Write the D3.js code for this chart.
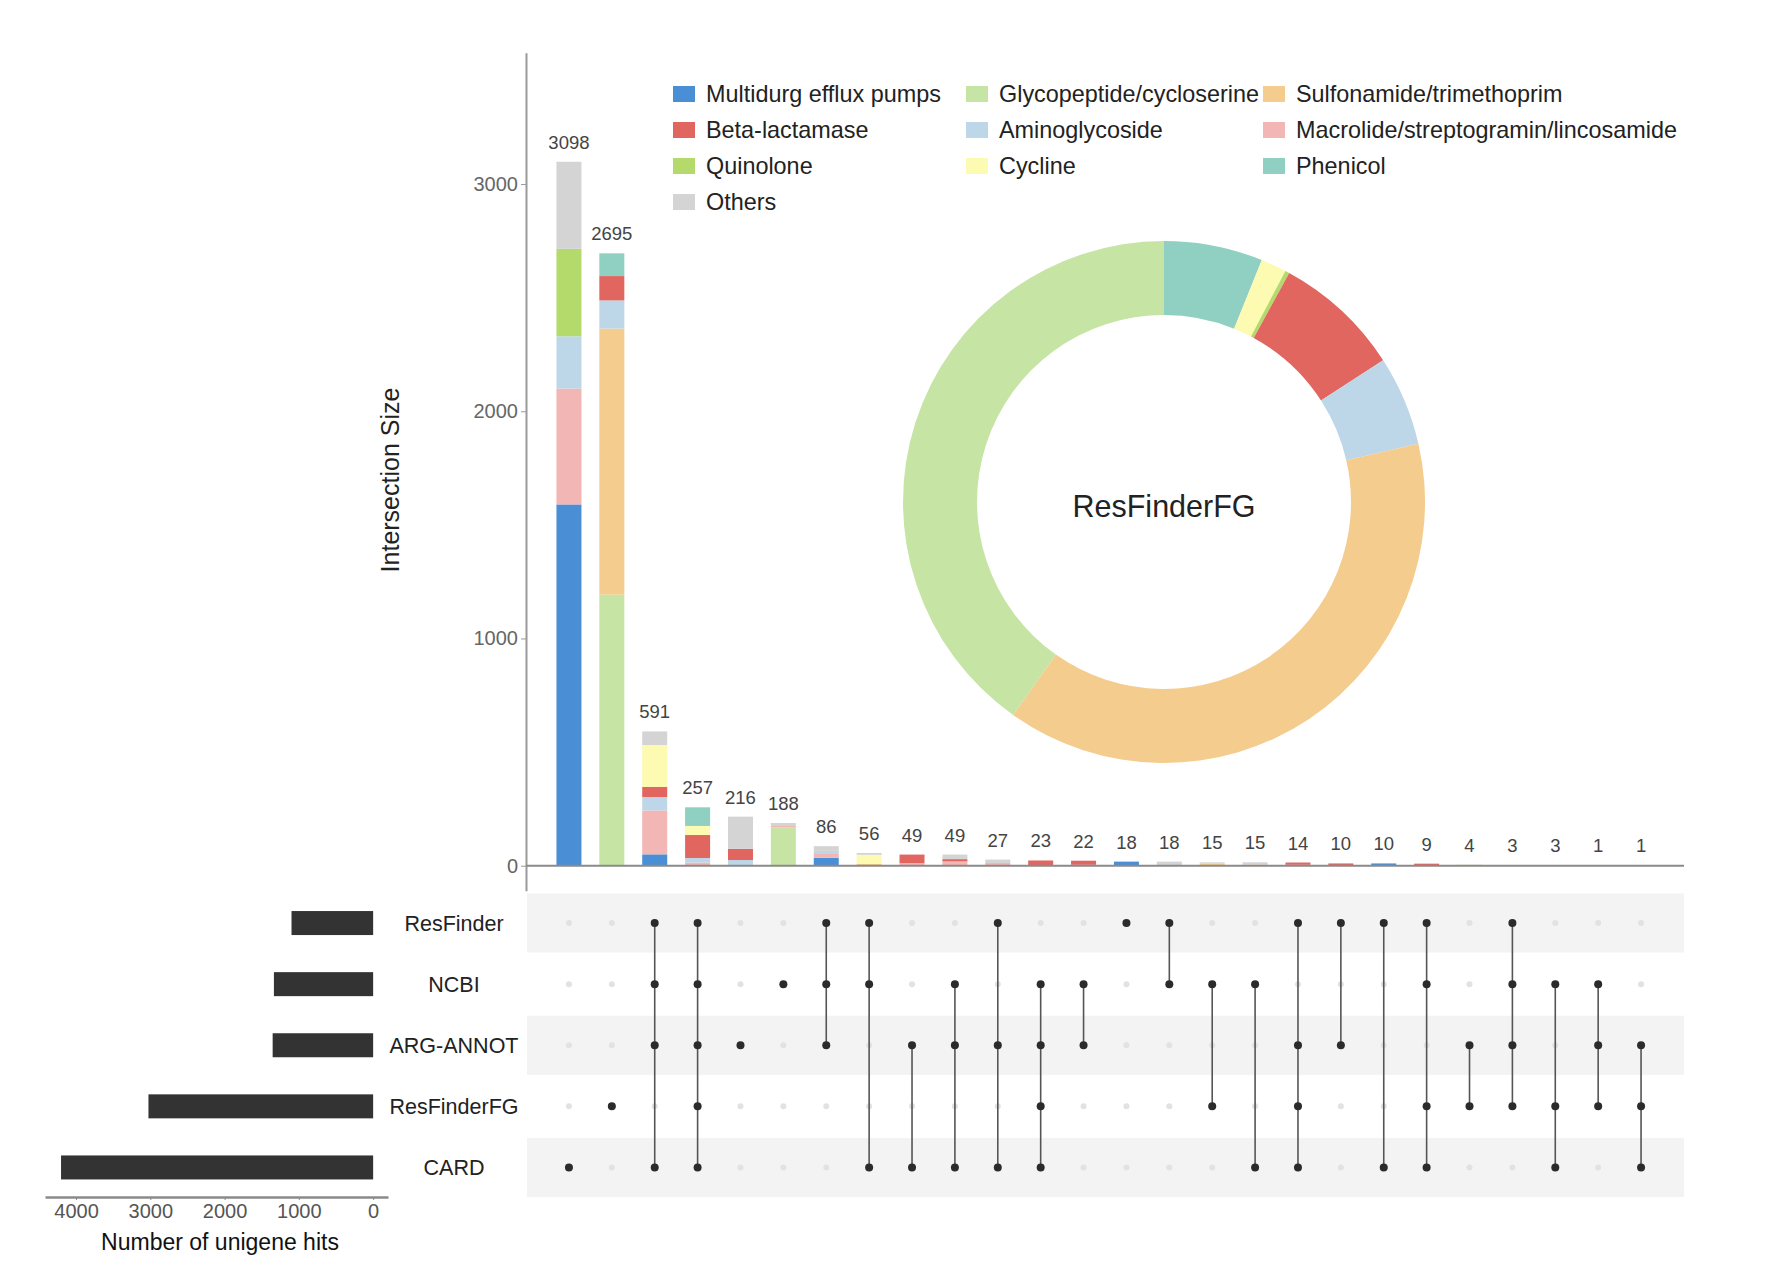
<!DOCTYPE html>
<html><head><meta charset="utf-8">
<script src="https://cdn.jsdelivr.net/npm/d3@7"></script>
<style>
body{margin:0;background:#fff}
text{font-family:"Liberation Sans",Arial,Helvetica,sans-serif}
</style>
</head><body>
<svg id="c" width="1768" height="1276"></svg>
<script>
// ---------------- DATA ----------------
const setNames = ["ResFinder", "NCBI", "ARG-ANNOT", "ResFinderFG", "CARD"];
const setSizes = [1099, 1336, 1353, 3025, 4202];

const intersectionSizes = [3098, 2695, 591, 257, 216, 188, 86, 56, 49, 49, 27, 23, 22, 18, 18, 15, 15, 14, 10, 10, 9, 4, 3, 3, 1, 1];
const combos = [
  ["CARD"],
  ["ResFinderFG"],
  ["ResFinder", "NCBI", "ARG-ANNOT", "CARD"],
  ["ResFinder", "NCBI", "ARG-ANNOT", "ResFinderFG", "CARD"],
  ["ARG-ANNOT"],
  ["NCBI"],
  ["ResFinder", "NCBI", "ARG-ANNOT"],
  ["ResFinder", "NCBI", "CARD"],
  ["ARG-ANNOT", "CARD"],
  ["NCBI", "ARG-ANNOT", "CARD"],
  ["ResFinder", "ARG-ANNOT", "CARD"],
  ["NCBI", "ARG-ANNOT", "ResFinderFG", "CARD"],
  ["NCBI", "ARG-ANNOT"],
  ["ResFinder"],
  ["ResFinder", "NCBI"],
  ["NCBI", "ResFinderFG"],
  ["NCBI", "CARD"],
  ["ResFinder", "ARG-ANNOT", "ResFinderFG", "CARD"],
  ["ResFinder", "ARG-ANNOT"],
  ["ResFinder", "CARD"],
  ["ResFinder", "NCBI", "ResFinderFG", "CARD"],
  ["ARG-ANNOT", "ResFinderFG"],
  ["ResFinder", "NCBI", "ARG-ANNOT", "ResFinderFG"],
  ["NCBI", "ResFinderFG", "CARD"],
  ["NCBI", "ARG-ANNOT", "ResFinderFG"],
  ["ARG-ANNOT", "ResFinderFG", "CARD"]
];

// stacked composition of each intersection bar (bottom -> top order below)
const multidrugEfflux = [1590, 0, 50, 0, 0, 0, 35, 0, 0, 0, 0, 0, 0, 18, 0, 0, 0, 0, 0, 10, 0, 0, 0, 0, 0, 0];
const glycopeptide    = [0, 1193, 0, 0, 0, 168, 0, 0, 0, 0, 0, 0, 0, 0, 0, 0, 0, 0, 0, 0, 0, 4, 0, 0, 0, 1];
const sulfonamide     = [0, 1171, 0, 0, 0, 0, 0, 8, 0, 0, 0, 0, 0, 0, 0, 10, 5, 0, 0, 0, 0, 0, 0, 0, 0, 0];
const macrolide       = [510, 0, 193, 14, 0, 10, 20, 0, 11, 19, 12, 0, 4, 0, 0, 0, 0, 4, 0, 0, 3, 0, 0, 0, 0, 0];
const aminoglycoside  = [230, 124, 59, 20, 25, 0, 10, 0, 0, 0, 0, 0, 0, 0, 0, 0, 0, 0, 0, 0, 0, 0, 0, 0, 0, 0];
const betaLactamase   = [0, 107, 45, 101, 49, 0, 0, 0, 38, 10, 0, 23, 18, 0, 0, 0, 0, 10, 10, 0, 6, 0, 3, 0, 0, 0];
const quinolone       = [385, 0, 0, 0, 0, 0, 0, 0, 0, 0, 0, 0, 0, 0, 0, 0, 0, 0, 0, 0, 0, 0, 0, 0, 0, 0];
const cycline         = [0, 0, 184, 40, 0, 0, 0, 40, 0, 0, 0, 0, 0, 0, 0, 0, 0, 0, 0, 0, 0, 0, 0, 0, 0, 0];
const phenicol        = [0, 100, 0, 82, 0, 0, 0, 0, 0, 0, 0, 0, 0, 0, 0, 0, 0, 0, 0, 0, 0, 0, 0, 0, 0, 0];
const others          = [383, 0, 60, 0, 142, 10, 21, 8, 0, 20, 15, 0, 0, 0, 18, 5, 10, 0, 0, 0, 0, 0, 0, 3, 1, 0];

const stackOrder = ["Multidurg efflux pumps", "Glycopeptide/cycloserine", "Sulfonamide/trimethoprim",
  "Macrolide/streptogramin/lincosamide", "Aminoglycoside", "Beta-lactamase", "Quinolone", "Cycline", "Phenicol", "Others"];
const stackSeries = [multidrugEfflux, glycopeptide, sulfonamide, macrolide, aminoglycoside, betaLactamase, quinolone, cycline, phenicol, others];

const legendOrder = ["Multidurg efflux pumps", "Glycopeptide/cycloserine", "Sulfonamide/trimethoprim",
  "Beta-lactamase", "Aminoglycoside", "Macrolide/streptogramin/lincosamide",
  "Quinolone", "Cycline", "Phenicol", "Others"];
const categoryColors = ["#4a8fd6", "#c6e4a4", "#f4cc8e", "#f2b6b5", "#bdd7e8", "#e0665f", "#b4da6c", "#fdfab2", "#8fd0c3", "#d4d4d4"];

// ResFinderFG composition for the donut (clockwise from 12 o'clock)
const donutLabel = "ResFinderFG";
const donutCategories = ["Phenicol", "Cycline", "Quinolone", "Beta-lactamase", "Aminoglycoside", "Sulfonamide/trimethoprim", "Glycopeptide/cycloserine"];
const donutValues = [185, 48, 8, 239, 168, 1162, 1216];

const yTicks = [0, 1000, 2000, 3000];
const setTicks = [0, 1000, 2000, 3000, 4000];

// ---------------- CHART ----------------
const svg = d3.select("#c");
const color = d3.scaleOrdinal().domain(stackOrder).range(categoryColors);
const FONT = "'Liberation Sans',Arial,sans-serif";

const x = d3.scaleBand().domain(d3.range(intersectionSizes.length))
  .range([526, 1684]).paddingInner(0.417).paddingOuter(0.71);
const y = d3.scaleLinear().domain([-110, 3578]).range([890.7, 52.7]);

// stacked bars
const table = intersectionSizes.map((s, i) => {
  const o = {idx: i};
  stackOrder.forEach((k, j) => o[k] = stackSeries[j][i]);
  return o;
});
const stacked = d3.stack().keys(stackOrder)(table);
svg.append("g").selectAll("g").data(stacked).join("g")
  .attr("fill", d => color(d.key))
  .selectAll("rect").data(d => d).join("rect")
  .attr("x", d => x(d.data.idx))
  .attr("width", x.bandwidth())
  .attr("y", d => y(d[1]))
  .attr("height", d => Math.max(0, y(d[0]) - y(d[1])));

// bar labels
svg.append("g").selectAll("text").data(intersectionSizes).join("text")
  .attr("x", (d, i) => x(i) + x.bandwidth() / 2)
  .attr("y", d => y(d) - 13)
  .attr("text-anchor", "middle")
  .attr("font-size", 18.5)
  .attr("fill", "#444")
  .text(d => d);

// y axis
const yAxis = svg.append("g").attr("transform", "translate(526,0)")
  .call(d3.axisLeft(y).tickValues(yTicks).tickFormat(d3.format("d")).tickSize(5).tickPadding(3).tickSizeOuter(0));
yAxis.select(".domain").attr("stroke", "#9a9a9a").attr("stroke-width", 2);
yAxis.selectAll(".tick line").attr("stroke", "#9a9a9a");
yAxis.selectAll(".tick text").attr("font-size", 20).attr("fill", "#666").style("font-family", FONT);

// baseline
svg.append("line").attr("x1", 526).attr("x2", 1684).attr("y1", y(0)).attr("y2", y(0))
  .attr("stroke", "#8a8a8a").attr("stroke-width", 2);

svg.append("text")
  .attr("transform", "translate(399,480) rotate(-90)")
  .attr("text-anchor", "middle")
  .attr("font-size", 25)
  .attr("fill", "#222")
  .text("Intersection Size");

// legend
const legend = svg.append("g");
const legCols = [673, 966, 1263];
legendOrder.forEach((k, i) => {
  const col = i % 3, row = Math.floor(i / 3);
  const cy = 94 + row * 36;
  legend.append("rect").attr("x", legCols[col]).attr("y", cy - 8).attr("width", 22).attr("height", 16)
    .attr("fill", color(k));
  legend.append("text").attr("x", legCols[col] + 33).attr("y", cy + 8)
    .attr("font-size", 23.4).attr("fill", "#222").text(k);
});

// donut
const pie = d3.pie().sort(null).value(d => d.v);
const arc = d3.arc().innerRadius(187).outerRadius(261);
const donut = svg.append("g").attr("transform", "translate(1164,502)");
donut.selectAll("path").data(pie(donutCategories.map((c, i) => ({c, v: donutValues[i]})))).join("path")
  .attr("d", arc).attr("fill", d => color(d.data.c));
donut.append("text").attr("text-anchor", "middle").attr("y", 15)
  .attr("font-size", 30.5).attr("fill", "#222").text(donutLabel);

// matrix
const rowY = d3.scaleBand().domain(setNames).range([892.5, 1198]);
const m = svg.append("g");
setNames.forEach((s, i) => {
  if (i % 2 === 0) {
    m.append("rect").attr("x", 527).attr("width", 1684 - 527)
      .attr("y", rowY(s) + 1).attr("height", rowY.bandwidth() - 2)
      .attr("fill", "#f3f3f3");
  }
});
combos.forEach((c, i) => {
  const cx = x(i) + x.bandwidth() / 2;
  setNames.forEach(s => {
    if (!c.includes(s)) {
      m.append("circle").attr("cx", cx).attr("cy", rowY(s) + rowY.bandwidth() / 2)
        .attr("r", 3).attr("fill", "#e2e2e2");
    }
  });
  const ys = c.map(s => rowY(s) + rowY.bandwidth() / 2);
  if (ys.length > 1) {
    m.append("line").attr("x1", cx).attr("x2", cx).attr("y1", d3.min(ys)).attr("y2", d3.max(ys))
      .attr("stroke", "#555").attr("stroke-width", 1.6);
  }
  ys.forEach(yy => m.append("circle").attr("cx", cx).attr("cy", yy).attr("r", 4).attr("fill", "#2b2b2b"));
});

// set size bars
const sx = d3.scaleLinear().domain([4418, -200]).range([45, 388]);
svg.append("g").selectAll("rect").data(setSizes).join("rect")
  .attr("x", d => sx(d))
  .attr("width", d => sx(0) - sx(d))
  .attr("y", (d, i) => rowY(setNames[i]) + rowY.bandwidth() / 2 - 12)
  .attr("height", 24)
  .attr("fill", "#333");

svg.append("g").selectAll("text").data(setNames).join("text")
  .attr("x", 454)
  .attr("y", s => rowY(s) + rowY.bandwidth() / 2 + 8)
  .attr("text-anchor", "middle")
  .attr("font-size", 21.5)
  .attr("fill", "#222")
  .text(s => s);

const sAxis = svg.append("g").attr("transform", "translate(0,1197)")
  .call(d3.axisBottom(sx).tickValues(setTicks).tickFormat(d3.format("d")).tickSize(3).tickPadding(4).tickSizeOuter(0));
sAxis.select(".domain").attr("stroke", "#8a8a8a").attr("stroke-width", 2.5);
sAxis.selectAll(".tick line").attr("stroke", "#8a8a8a");
sAxis.selectAll(".tick text").attr("font-size", 20).attr("fill", "#555").style("font-family", FONT);

svg.append("text").attr("x", 220).attr("y", 1250).attr("text-anchor", "middle")
  .attr("font-size", 23).attr("fill", "#111").text("Number of unigene hits");
</script>
</body></html>
